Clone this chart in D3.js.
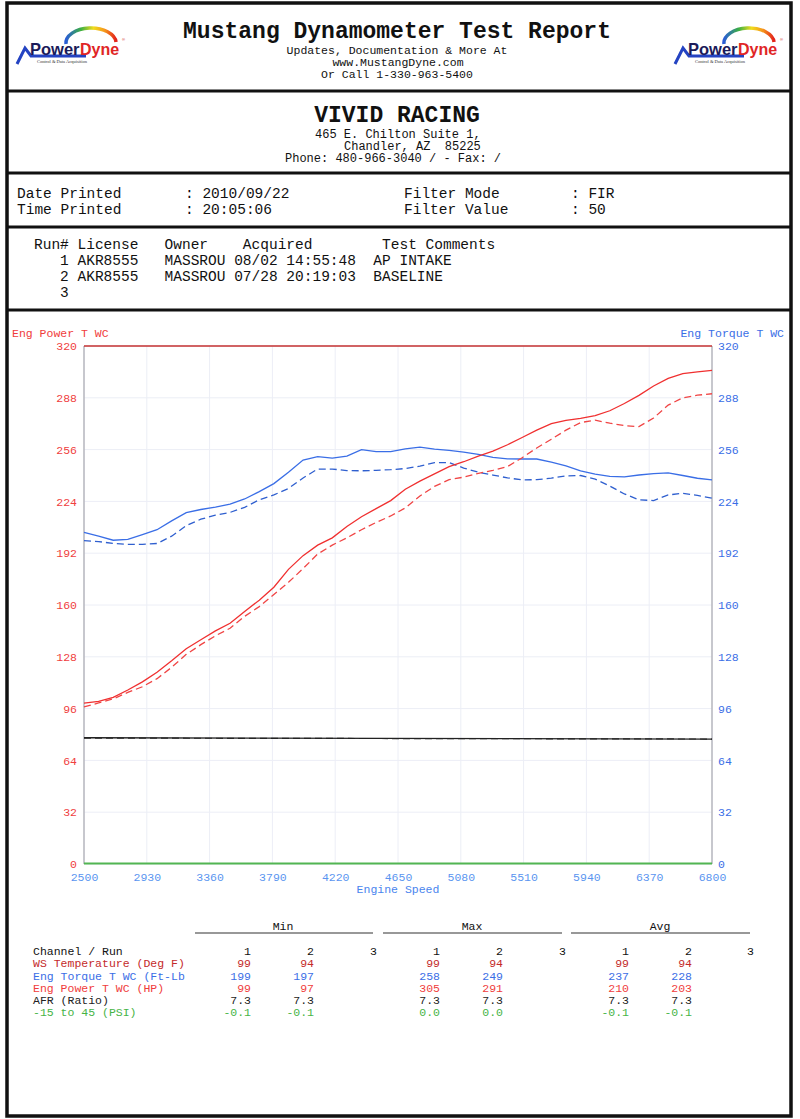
<!DOCTYPE html>
<html>
<head>
<meta charset="utf-8">
<script src="https://cdn.jsdelivr.net/npm/d3@7"></script>
<style>
body { margin: 0; background: #fff; }
svg { display: block; }
text { font-family: "Liberation Mono", "Courier New", monospace; white-space: pre; }
</style>
</head>
<body>
<script>
// engine speed grid (rpm) shared by all four curves
const rpm = [2500, 2600, 2700, 2800, 2900, 3000, 3100, 3200, 3300, 3400, 3500,
  3600, 3700, 3800, 3900, 4000, 4100, 4200, 4300, 4400, 4500, 4600, 4700, 4800,
  4900, 5000, 5100, 5200, 5300, 5400, 5500, 5600, 5700, 5800, 5900, 6000, 6100,
  6200, 6300, 6400, 6500, 6600, 6700, 6800];

const powerRun1 = [99.4, 100.5, 103, 107.5, 112.5, 118.5, 125.5, 133, 138.5, 144, 148.7,
  156, 163, 171, 182, 190.5, 197, 201.5, 208.5, 214.5, 219.5, 224.5, 231.5, 236.5,
  241, 245.5, 248.5, 252, 255, 259, 263.5, 268, 272, 274, 275.3, 277, 280,
  284.5, 289.5, 295.3, 300, 303, 304, 305];
const powerRun2 = [97, 99.5, 102, 106, 109.5, 114.5, 121.5, 129.5, 135.5, 141, 145.6,
  153, 159, 166.5, 174, 182.5, 191.5, 197, 201.5, 206.5, 211, 215, 220, 227.3,
  233.3, 237.4, 239, 241.3, 243.2, 245.5, 251, 257, 262.4, 268, 272.7, 274.2, 272.3,
  270.8, 270.2, 275.5, 283.5, 288, 289.6, 290.5];
const torqueRun1 = [204.8, 202.5, 200, 200.5, 203.5, 206.5, 212, 217, 219, 220.5, 222.3,
  225.5, 230, 235, 242, 249.5, 251.6, 250.7, 252, 256, 254.7, 254.8, 256.5, 257.5,
  256.3, 255.5, 254.5, 253, 251.2, 250.3, 250.2, 250.2, 248.3, 245.9, 242.8, 240.8, 239.5,
  239.2, 240.3, 241.2, 241.6, 240, 238.3, 237.3];
const torqueRun2 = [199.8, 199.2, 198, 197.5, 197.5, 198, 202.5, 209, 213, 215.5, 217.2,
  220.3, 225, 228, 232, 238.5, 244, 244, 243, 242.9, 243.2, 243.6, 244.3, 245.8,
  248, 248, 244.6, 242, 240.3, 238.5, 237.3, 237.4, 238.4, 239.7, 240, 237.8, 233.5,
  228.6, 225, 224.5, 228, 229, 227.7, 226];

// flat channels, plotted in chart units
const flatRpm = [2500, 6800];
const afrRun1 = [78.0, 77.2];
const afrRun2 = [77.8, 77.2];
const psiRun1 = [0.3, 0.3];

const xTicks = [2500, 2930, 3360, 3790, 4220, 4650, 5080, 5510, 5940, 6370, 6800];
const yTicks = [0, 32, 64, 96, 128, 160, 192, 224, 256, 288, 320];

// summary table
const channels = ["WS Temperature (Deg F)", "Eng Torque T WC (Ft-Lb", "Eng Power T WC (HP)", "AFR (Ratio)", "-15 to 45 (PSI)"];
const channelColors = ["#c42a2a", "#3a6ee6", "#f03c3c", "#222", "#46b446"];
const minRun1 = ["99", "199", "99", "7.3", "-0.1"];
const minRun2 = ["94", "197", "97", "7.3", "-0.1"];
const maxRun1 = ["99", "258", "305", "7.3", "0.0"];
const maxRun2 = ["94", "249", "291", "7.3", "0.0"];
const avgRun1 = ["99", "237", "210", "7.3", "-0.1"];
const avgRun2 = ["94", "228", "203", "7.3", "-0.1"];

const width = 800;
const height = 1119;
const svg = d3.select('body').append('svg').attr('width', width).attr('height', height);
svg.append('rect').attr('width', width).attr('height', height).attr('fill', '#fff');

// ---------- frame ----------
svg.append('rect').attr('x', 7).attr('y', 3).attr('width', 784).attr('height', 1113)
  .attr('fill', 'none').attr('stroke', '#111').attr('stroke-width', 3.5);
[91, 173, 227, 310].forEach(function (yy) {
  svg.append('line').attr('x1', 6).attr('x2', 792).attr('y1', yy).attr('y2', yy)
    .attr('stroke', '#111').attr('stroke-width', 3);
});

// ---------- logos ----------
const defs = svg.append('defs');
const grad = defs.append('linearGradient').attr('id', 'rainbow').attr('x1', '0').attr('x2', '1').attr('y1', '0').attr('y2', '0');
[['0%', '#2a5cd6'], ['30%', '#3cb043'], ['55%', '#f0dc1c'], ['78%', '#f5941c'], ['100%', '#e3201b']]
  .forEach(s => grad.append('stop').attr('offset', s[0]).attr('stop-color', s[1]));

function drawLogo(ox) {
  const g = svg.append('g').attr('transform', `translate(${ox},0)`);
  g.append('path').attr('d', 'M66,44 A25,15 0 0 1 116,42')
    .attr('fill', 'none').attr('stroke', 'url(#rainbow)').attr('stroke-width', 3.5);
  g.append('polyline').attr('points', '17,64 25,48 31,56 86,56')
    .attr('fill', 'none').attr('stroke', '#2443c2').attr('stroke-width', 3);
  const logoFont = '"Liberation Sans", Arial, sans-serif';
  g.append('text').attr('x', 30).attr('y', 55).attr('fill', '#1b1b5a')
    .style('font-family', logoFont).style('font-weight', 'bold').style('font-size', '16.5px')
    .text('Power');
  g.append('text').attr('x', 80).attr('y', 55).attr('fill', '#e02525')
    .style('font-family', logoFont).style('font-weight', 'bold').style('font-size', '16px')
    .text('Dyne');
  g.append('text').attr('x', 122).attr('y', 41).style('font-size', '4px').style('font-family', 'Arial').attr('fill', '#c00').text('®');
  g.append('text').attr('x', 62).attr('y', 63).attr('text-anchor', 'middle')
    .style('font-family', '"Liberation Serif", serif').style('font-size', '4.5px').attr('fill', '#333')
    .text('Control & Data Acquisition');
}
drawLogo(0);
drawLogo(658);

// ---------- header texts ----------
function txt(x, y, s, size, opts) {
  opts = opts || {};
  return svg.append('text').attr('x', x).attr('y', y)
    .attr('text-anchor', opts.anchor || 'start')
    .attr('fill', opts.color || '#111')
    .style('font-size', size + 'px')
    .style('font-weight', opts.bold ? 'bold' : 'normal')
    .text(s);
}

txt(397, 38, 'Mustang Dynamometer Test Report', 23, { anchor: 'middle', bold: true });
txt(397, 54, 'Updates, Documentation & More At', 11.5, { anchor: 'middle' });
txt(398, 66, 'www.MustangDyne.com', 11.5, { anchor: 'middle' });
txt(397, 78, 'Or Call 1-330-963-5400', 11.5, { anchor: 'middle' });

txt(397, 122, 'VIVID RACING', 23, { anchor: 'middle', bold: true });
txt(315, 138, '465 E. Chilton Suite 1,', 12);
txt(344, 150, 'Chandler, AZ  85225', 12);
txt(285, 162, 'Phone: 480-966-3040 / - Fax: /', 12);

txt(17, 198, 'Date Printed', 14.5);
txt(185, 198, ': 2010/09/22', 14.5);
txt(404, 198, 'Filter Mode', 14.5);
txt(571, 198, ': FIR', 14.5);
txt(17, 214, 'Time Printed', 14.5);
txt(185, 214, ': 20:05:06', 14.5);
txt(404, 214, 'Filter Value', 14.5);
txt(571, 214, ': 50', 14.5);

const runRows = [
  'Run# License   Owner    Acquired        Test Comments',
  '   1 AKR8555   MASSROU 08/02 14:55:48  AP INTAKE',
  '   2 AKR8555   MASSROU 07/28 20:19:03  BASELINE',
  '   3'
];
runRows.forEach(function (r, i) { txt(34, 249 + i * 16, r, 14.5); });

// ---------- chart ----------
const x = d3.scaleLinear().domain([2500, 6800]).range([84, 712]);
const y = d3.scaleLinear().domain([0, 320]).range([864, 346]);
const chart = svg.append('g');

chart.selectAll('.vgrid').data(xTicks).enter().append('line')
  .attr('x1', d => x(d)).attr('x2', d => x(d)).attr('y1', y(320)).attr('y2', y(0))
  .attr('stroke', '#eceef6').attr('stroke-width', 1);
chart.selectAll('.hgrid').data(yTicks).enter().append('line')
  .attr('x1', x(2500)).attr('x2', x(6800)).attr('y1', d => y(d)).attr('y2', d => y(d))
  .attr('stroke', '#eceef6').attr('stroke-width', 1);

// plot borders
chart.append('line').attr('x1', x(2500)).attr('x2', x(2500)).attr('y1', y(320)).attr('y2', y(0))
  .attr('stroke', '#a8a8b0').attr('stroke-width', 1.2);
chart.append('line').attr('x1', x(6800)).attr('x2', x(6800)).attr('y1', y(320)).attr('y2', y(0))
  .attr('stroke', '#a8a8b0').attr('stroke-width', 1.2);
chart.append('line').attr('x1', x(2500)).attr('x2', x(6800)).attr('y1', y(320)).attr('y2', y(320))
  .attr('stroke', '#c43232').attr('stroke-width', 1.5);

const leftAxis = chart.append('g').attr('transform', `translate(${x(2500)},0)`)
  .call(d3.axisLeft(y).tickValues(yTicks).tickSize(0).tickPadding(7));
leftAxis.selectAll('text').attr('fill', '#f04040').style('font-size', '11.5px')
  .style('font-family', '"Liberation Mono", monospace');
const rightAxis = chart.append('g').attr('transform', `translate(${x(6800)},0)`)
  .call(d3.axisRight(y).tickValues(yTicks).tickSize(0).tickPadding(6));
rightAxis.selectAll('text').attr('fill', '#3a6ee6').style('font-size', '11.5px')
  .style('font-family', '"Liberation Mono", monospace');
const bottomAxis = chart.append('g').attr('transform', `translate(0,${y(0)})`)
  .call(d3.axisBottom(x).tickValues(xTicks).tickSize(0).tickPadding(9).tickFormat(d3.format('d')));
bottomAxis.selectAll('text').attr('fill', '#5a95f0').style('font-size', '11.5px')
  .style('font-family', '"Liberation Mono", monospace');
chart.selectAll('.domain').remove();

txt(12, 337, 'Eng Power T WC', 11.5, { color: '#f03c3c' });
txt(784, 337, 'Eng Torque T WC', 11.5, { color: '#3a6ee6', anchor: 'end' });
txt(398, 893, 'Engine Speed', 11.5, { color: '#4a85ee', anchor: 'middle' });

const line = d3.line().x(d => x(d[0])).y(d => y(d[1]));
function series(xs, ys, color, dashed, w) {
  chart.append('path').datum(d3.zip(xs, ys)).attr('d', line)
    .attr('fill', 'none').attr('stroke', color).attr('stroke-width', w || 1.3)
    .attr('stroke-dasharray', dashed ? '7,4' : null);
}

series(flatRpm, psiRun1, '#52b552', false, 2);
series(flatRpm, afrRun2, '#333', true, 1.2);
series(flatRpm, afrRun1, '#222', false, 1.3);
series(rpm, torqueRun2, '#2f5fcf', true);
series(rpm, torqueRun1, '#3a6ee6', false);
series(rpm, powerRun2, '#f04545', true);
series(rpm, powerRun1, '#f03030', false);

// ---------- summary table ----------
const groups = [
  { label: 'Min', cx: 283, x1: 195, x2: 373, cols: [251, 314, 377], r1: minRun1, r2: minRun2 },
  { label: 'Max', cx: 472, x1: 383, x2: 562, cols: [440, 503, 566], r1: maxRun1, r2: maxRun2 },
  { label: 'Avg', cx: 660, x1: 571, x2: 750, cols: [629, 692, 754], r1: avgRun1, r2: avgRun2 }
];
const rowY = [955, 967, 980, 992, 1004, 1016];

txt(33, rowY[0], 'Channel / Run', 11.5);
channels.forEach(function (c, i) { txt(33, rowY[i + 1], c, 11.5, { color: channelColors[i] }); });

groups.forEach(function (gp) {
  txt(gp.cx, 930, gp.label, 11.5, { anchor: 'middle' });
  svg.append('line').attr('x1', gp.x1).attr('x2', gp.x2).attr('y1', 933).attr('y2', 933)
    .attr('stroke', '#333').attr('stroke-width', 1.2);
  ['1', '2', '3'].forEach(function (r, j) { txt(gp.cols[j], rowY[0], r, 11.5, { anchor: 'end' }); });
  channels.forEach(function (c, i) {
    txt(gp.cols[0], rowY[i + 1], gp.r1[i], 11.5, { anchor: 'end', color: channelColors[i] });
    txt(gp.cols[1], rowY[i + 1], gp.r2[i], 11.5, { anchor: 'end', color: channelColors[i] });
  });
});
</script>
</body>
</html>
